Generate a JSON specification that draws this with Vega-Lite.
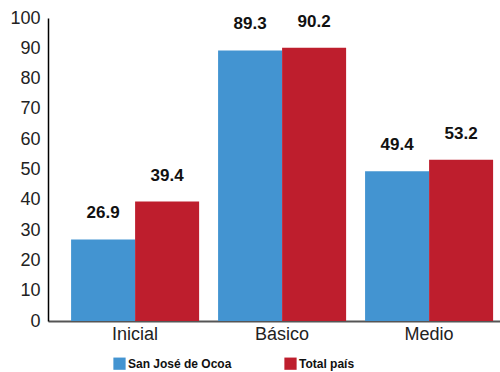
{
  "$schema": "https://vega.github.io/schema/vega-lite/v6.json",
  "autosize": {"type": "none"},
  "padding": {"left": 48, "top": 18, "right": 0, "bottom": 51},
  "width": 452,
  "height": 303,
  "background": "white",
  "config": {"view": {"stroke": null}, "font": "Liberation Sans"},
  "data": {"values": [
    {"nivel": "Inicial", "serie": "San José de Ocoa", "valor": 26.9},
    {"nivel": "Inicial", "serie": "Total país", "valor": 39.4},
    {"nivel": "Básico", "serie": "San José de Ocoa", "valor": 89.3},
    {"nivel": "Básico", "serie": "Total país", "valor": 90.2},
    {"nivel": "Medio", "serie": "San José de Ocoa", "valor": 49.4},
    {"nivel": "Medio", "serie": "Total país", "valor": 53.2}
  ]},
  "encoding": {
    "x": {"field": "nivel", "type": "nominal", "sort": ["Inicial", "Básico", "Medio"],
      "scale": {"paddingInner": 0.129, "paddingOuter": 0.102, "align": 0.77},
      "axis": {"title": null, "labelAngle": 0, "ticks": false, "domainColor": "#555555", "domainWidth": 2, "labelFontSize": 18, "labelColor": "#222222", "labelPadding": 4, "labelFont": "Liberation Sans"}},
    "xOffset": {"field": "serie", "type": "nominal", "sort": ["San José de Ocoa", "Total país"]},
    "y": {"field": "valor", "type": "quantitative",
      "scale": {"domain": [0, 100], "nice": false},
      "axis": {"title": null, "values": [0,10,20,30,40,50,60,70,80,90,100], "ticks": false, "grid": false, "domainColor": "#000000", "domainWidth": 1.5, "labelFontSize": 18, "labelColor": "#222222", "labelPadding": 8, "labelFont": "Liberation Sans"}}
  },
  "layer": [
    {"mark": {"type": "bar"},
      "encoding": {"color": {"field": "serie", "type": "nominal", "sort": ["San José de Ocoa", "Total país"],
        "scale": {"range": ["#4394D1", "#BE1E2D"]},
        "legend": {"title": null, "orient": "none", "legendX": 65, "legendY": 339, "direction": "horizontal", "symbolType": "square", "symbolSize": 150, "symbolStrokeWidth": 0, "labelFontSize": 12, "labelFontWeight": "bold", "labelFont": "Liberation Sans", "labelColor": "#111111", "labelOffset": 2, "columnPadding": 52, "symbolOpacity": 1}}}},
    {"mark": {"type": "text", "fontWeight": "bold", "fontSize": 17, "dy": -26, "color": "#111111", "font": "Liberation Sans"},
      "encoding": {"text": {"field": "valor", "type": "quantitative", "format": ".1f"}}}
  ]
}
